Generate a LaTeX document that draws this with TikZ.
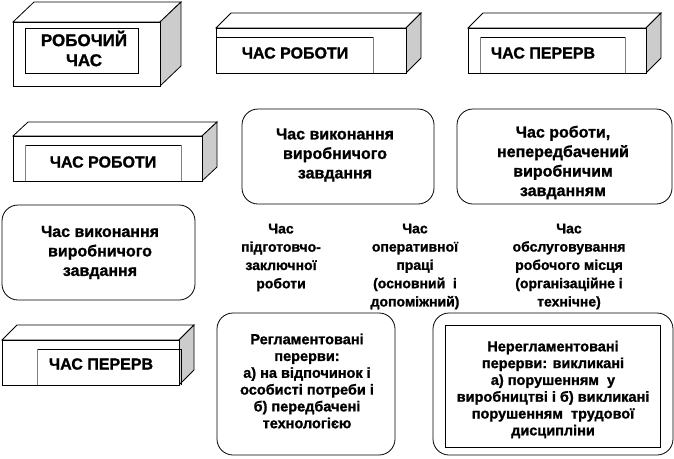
\documentclass[tikz,border=0pt]{standalone}
\usepackage{fontspec}
\setmainfont[BoldFeatures={FakeBold=1.2}]{Liberation Sans}
\definecolor{sidegray}{RGB}{204,204,204}
\newcommand\mycuboid[6]{%
  \draw[line width=0.8pt,fill=white] (#1,#2) -- (#1+#5,#2-#6) -- (#3+#5,#2-#6) -- (#3,#2) -- cycle;
  \draw[line width=0.8pt,fill=sidegray] (#3,#2) -- (#3+#5,#2-#6) -- (#3+#5,#4-#6) -- (#3,#4) -- cycle;
  \draw[line width=0.8pt,fill=white] (#1,#2) rectangle (#3,#4);
}
\begin{document}
\begin{tikzpicture}[x=1pt,y=-1pt,
  capfont/.style={font=\bfseries\fontsize{16}{20}\selectfont},
  boxtext/.style={align=center,inner sep=0pt,font=\bfseries\fontsize{16}{19.5}\selectfont},
  coltext/.style={align=center,inner sep=0pt,font=\bfseries\fontsize{14}{18.3}\selectfont},
  bottext/.style={align=center,inner sep=0pt,font=\bfseries\fontsize{14.5}{16.8}\selectfont},
  inner/.style={line width=0.8pt},
  rbox/.style={draw,line width=0.8pt,rounded corners=16pt,inner sep=0pt}]
\useasboundingbox (0,0) rectangle (674,458);

% cuboids
\mycuboid{13}{22}{160}{86}{21}{20}
\draw[inner] (25,28) rectangle (138,73);
\node[capfont,align=center,inner sep=0pt,font=\bfseries\fontsize{17}{20}\selectfont] (rc) at (84,48.5) {РОБОЧИЙ\\ЧАС};

\mycuboid{216}{28}{406}{73}{15}{15}
\draw[inner] (216,73) -- (216,37) -- (373,37);
\draw[inner,gray] (373,37) -- (373,73);
\node[capfont,inner sep=0pt] (cr1) at (295,53) {ЧАС РОБОТИ};

\mycuboid{468}{28}{646}{73}{15}{15}
\draw[inner] (480,37) -- (625,37);
\draw[inner,gray] (480,37) -- (480,73) (625,37) -- (625,73);
\node[capfont,inner sep=0pt] (cp1) at (543,53) {ЧАС ПЕРЕРВ};

\mycuboid{13}{136}{202}{181}{15}{14}
\draw[inner] (25,145) -- (181,145);
\draw[inner,gray] (25,145) -- (25,181) (181,145) -- (181,181);
\node[capfont,inner sep=0pt] (cr2) at (103,162) {ЧАС РОБОТИ};

\mycuboid{2}{340}{179}{385}{15}{15}
\draw[inner] (37,349) -- (181,349) -- (181,385);
\draw[inner,gray] (37,349) -- (37,385);
\node[capfont,inner sep=0pt] (cp2) at (101,364) {ЧАС ПЕРЕРВ};

% rounded boxes
\node[rbox,minimum width=192pt,minimum height=95pt] (r1) at (338,156.5) {};
\node[boxtext] (r1t) at (335,155) {Час виконання\\виробничого\\завдання};

\node[rbox,minimum width=215pt,minimum height=95pt] (r2) at (564.5,156.5) {};
\node[boxtext] (r2t) at (563,162.5) {Час роботи,\\непередбачений\\виробничим\\завданням};

\node[rbox,minimum width=193pt,minimum height=95pt] (r3) at (98.5,252.5) {};
\node[boxtext] (r3t) at (100,252.5) {Час виконання\\виробничого\\завдання};

% columns
\node[coltext] (c1) at (281,257.5) {Час\\підготовчо-\\заключної\\роботи};
\node[coltext] (c2) at (415,266.5) {Час\\оперативної\\праці\\(основний \ і\\допоміжний)};
\node[coltext] (c3) at (569,266.5) {Час\\обслуговування\\робочого місця\\(організаційне і\\технічне)};

% bottom boxes
\node[rbox,minimum width=178pt,minimum height=142pt] (b1) at (306,384) {};
\node[bottext] (b1t) at (307,381) {Регламентовані\\перерви:\\а) на відпочинок і\\особисті потреби і\\б) передбачені\\технологією};

\node[rbox,minimum width=240pt,minimum height=142pt] (b2) at (553,384) {};
\node[draw,line width=0.8pt,minimum width=215pt,minimum height=122pt,inner sep=0pt] (b2i) at (552.5,386) {};
\node[bottext] (b2t) at (553,389.5) {Нерегламентовані\\перерви: викликані\\а) порушенням \ у\\виробництві і б) викликані\\порушенням \ трудової\\дисципліни};
\end{tikzpicture}
\end{document}
